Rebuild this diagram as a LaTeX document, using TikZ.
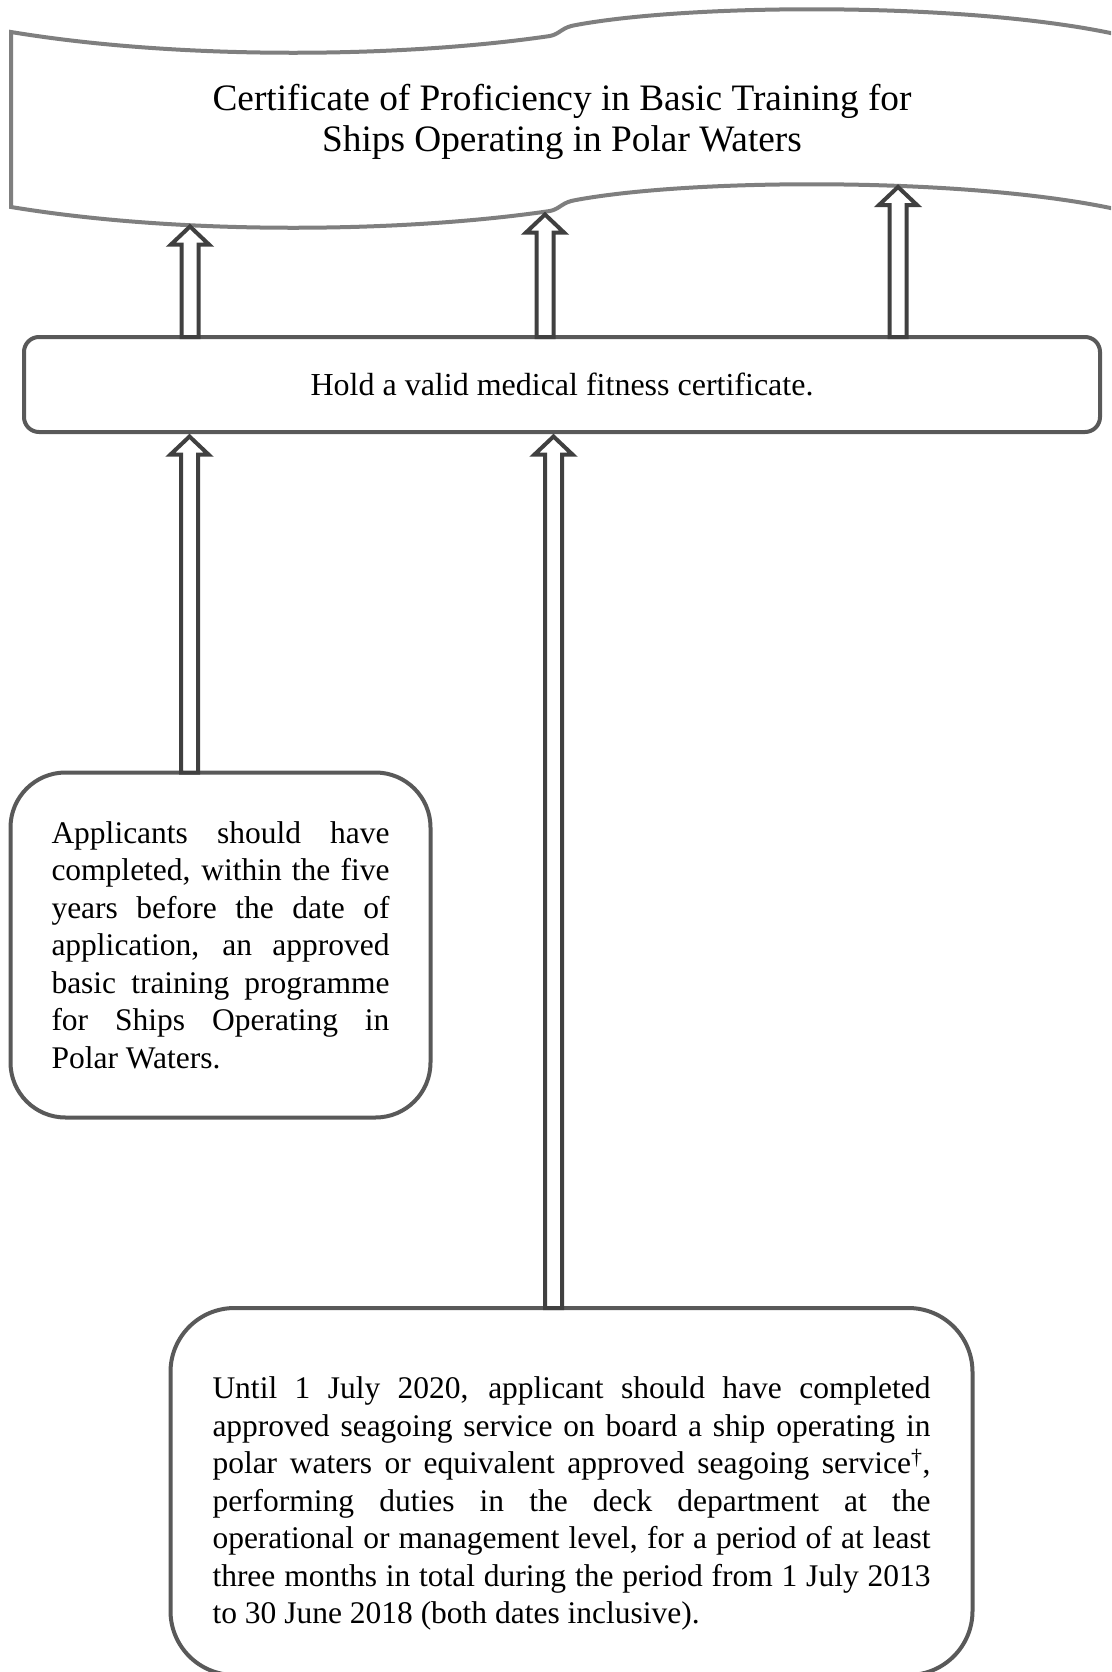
\documentclass[tikz,border=0pt]{standalone}
\usepackage{fontspec}
\setmainfont{Liberation Serif}
\usetikzlibrary{positioning,calc}
\definecolor{bannergray}{HTML}{7F7F7F}
\definecolor{boxgray}{HTML}{595959}
\definecolor{arrowgray}{HTML}{404040}
\tolerance=10000
\hbadness=10000
\hyphenpenalty=10000

% hollow block arrow pointing up, from #1 (foot) to #2 (tip)
\newcommand{\blockup}[2]{%
  \draw[blockarrow] let \p1=(#1), \p2=(#2) in
    (\x1-8.5pt,\y1) -- (\x1-8.5pt,\y2-18pt) -- (\x1-19pt,\y2-18pt)
    -- (\x1,\y2) -- (\x1+19pt,\y2-18pt) -- (\x1+8.5pt,\y2-18pt)
    -- (\x1+8.5pt,\y1) -- cycle;}

\begin{document}
\begin{tikzpicture}[x=1pt, y=-1pt]
    \tikzstyle{every node}=[inner sep=0pt, outer sep=0pt, font=\fontsize{31.5}{37.5}\selectfont]
    \tikzset{
        box/.style={draw=boxgray, line width=4pt, fill=white},
        medbox/.style={box, rounded corners=15pt, minimum width=1076pt, minimum height=95pt},
        textbox/.style={box, rounded corners=55pt},
        banner/.style={draw=bannergray, line width=4pt, fill=white},
        blockarrow/.style={draw=arrowgray, line width=4pt, fill=white, line join=miter}
        }
    \useasboundingbox (0,0) rectangle (1111,1672);
    \clip (0,0) rectangle (1111,1672);

    %banner
    \draw[banner] (11,32) .. controls (180,60) and (400,58) .. (550,36)
        .. controls (560,34) and (562,27) .. (576,25)
        .. controls (700,2) and (1000,2) .. (1140,40)
        -- (1140,215)
        .. controls (1000,177) and (700,177) .. (576,200)
        .. controls (562,202) and (560,209) .. (550,211)
        .. controls (400,233) and (180,235) .. (11,207) -- cycle;

    %title
    \node (title) at (562,122) [align=center, font=\fontsize{37.3}{41}\selectfont]
        {Certificate of Proficiency in Basic Training for\\Ships Operating in Polar Waters};

    %medical
    \node (medical) at (562,384.5) [medbox, font=\fontsize{32}{37.5}\selectfont]
        {Hold a valid medical fitness certificate.};

    %training
    \node (training) [textbox, align=justify, text width=338pt, minimum width=420pt, minimum height=345pt,
        below right=340.5pt and -13.5pt of medical.south west]
        {Applicants should have\linebreak
        completed, within the five\linebreak
        years before the date of\linebreak
        application, an approved\linebreak
        basic training programme\linebreak
        for Ships Operating in\linebreak
        Polar Waters.};

    %service
    \node (service) [textbox, rounded corners=64pt, minimum width=802pt, minimum height=367pt,
        below=876pt of medical.south, xshift=9.5pt]
        {\parbox{718pt}{\vspace*{24pt}%
        Until 1 July 2020, applicant should have completed\linebreak
        approved seagoing service on board a ship operating in\linebreak
        polar waters or equivalent approved seagoing service\textsuperscript{\textdagger},\linebreak
        performing duties in the deck department at the\linebreak
        operational or management level, for a period of at least\linebreak
        three months in total during the period from 1 July 2013\linebreak
        to 30 June 2018 (both dates inclusive).}};

    %tips
    \coordinate (tipA) at (190,226.5);
    \coordinate (tipB) at (545,214.5);
    \coordinate (tipC) at (898,187);
    \coordinate (tipD) at (189.5,436.5);
    \coordinate (tipE) at (553.5,436.5);

    %arrows
    \blockup{medical.north -| tipA}{tipA}
    \blockup{medical.north -| tipB}{tipB}
    \blockup{medical.north -| tipC}{tipC}
    \blockup{training.north -| tipD}{tipD}
    \blockup{service.north -| tipE}{tipE}
\end{tikzpicture}
\end{document}
